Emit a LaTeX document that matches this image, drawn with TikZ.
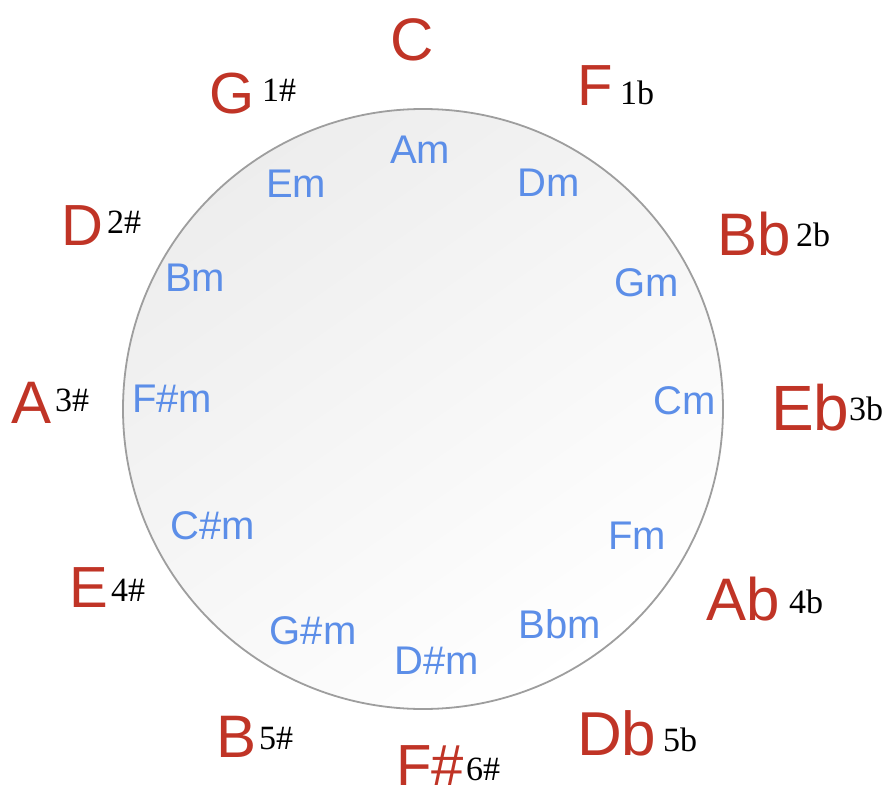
\documentclass[tikz,border=0pt]{standalone}
\usepackage{fontspec}
\setsansfont{Liberation Sans}
\setmainfont{Liberation Serif}
\definecolor{majred}{RGB}{192,52,38}
\definecolor{minblue}{RGB}{92,142,232}
\definecolor{ringgray}{RGB}{158,158,158}
\begin{document}
\begin{tikzpicture}[x=1pt,y=-1pt,
  maj/.style={text=majred, inner sep=0pt, anchor=base west, font=\sffamily\fontsize{#1}{#1}\selectfont},
  maj/.default=58,
  minr/.style={text=minblue, inner sep=0pt, anchor=base, font=\sffamily\fontsize{40}{40}\selectfont},
  num/.style={text=black, inner sep=0pt, anchor=base west, font=\rmfamily\fontsize{34}{34}\selectfont}]
\useasboundingbox (0,0) rectangle (889,800);
% circle
\shade[top color=black!7, bottom color=white, shading angle=35] (423,409) circle (300);
\draw[ringgray, line width=1.8pt] (423,409) circle (300);
% major keys
\node[maj=60] (C) at (390,60) {C};
\node[maj] (G) at (209,113) {G};
\node[num] (G1) at (262,101) {1\#};
\node[maj] (F) at (577,106) {F};
\node[num] (F1) at (620,104) {1b};
\node[maj] (D) at (61,245) {D};
\node[num] (D2) at (107,233) {2\#};
\node[maj=60] (Bb) at (717,255) {Bb};
\node[num] (Bb2) at (796,246) {2b};
\node[maj=60] (A) at (11,423) {A};
\node[num] (A3) at (55,411) {3\#};
\node[maj=64] (Eb) at (771,430) {Eb};
\node[num] (Eb3) at (849,420) {3b};
\node[maj] (E) at (69,607) {E};
\node[num] (E4) at (111,601) {4\#};
\node[maj=60] (Ab) at (706,620) {Ab};
\node[num] (Ab4) at (789,613) {4b};
\node[maj=60] (B) at (216,757) {B};
\node[num] (B5) at (259,749) {5\#};
\node[maj=62] (Db) at (577,755) {Db};
\node[num] (Db5) at (663,751) {5b};
\node[maj=58] (Fs) at (396,785) {F\#};
\node[num] (Fs6) at (466,780) {6\#};
% minor keys
\node[minr] (Am) at (420,163) {Am};
\node[minr] (Em) at (296,197) {Em};
\node[minr] (Dm) at (549,196) {Dm};
\node[minr] (Bm) at (195,291) {Bm};
\node[minr] (Gm) at (647,296) {Gm};
\node[minr] (Fsm) at (172,412) {F\#m};
\node[minr] (Cm) at (685,414) {Cm};
\node[minr] (Csm) at (213,539) {C\#m};
\node[minr] (Fm) at (637,549) {Fm};
\node[minr] (Gsm) at (313,644) {G\#m};
\node[minr] (Bbm) at (560,638) {Bbm};
\node[minr] (Dsm) at (437,674) {D\#m};
\end{tikzpicture}
\end{document}
